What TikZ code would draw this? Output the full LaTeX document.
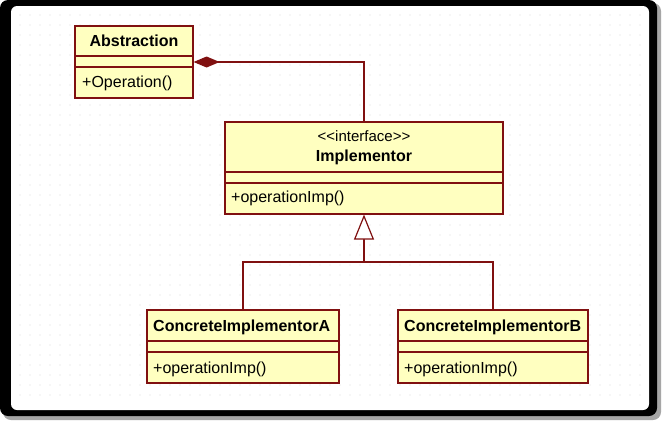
\documentclass[tikz,border=0pt]{standalone}
\usepackage{fontspec}
\setmainfont{Liberation Sans}
\usetikzlibrary{arrows.meta}
\definecolor{umlfill}{RGB}{255,255,192}
\definecolor{umlline}{RGB}{128,16,16}
\definecolor{dotcol}{gray}{0.86}
\definecolor{shadowcol}{gray}{0.65}
\tikzset{
  cls/.style={draw=umlline,fill=umlfill,line width=1.2pt,inner sep=0pt},
  rule/.style={draw=umlline,line width=1.2pt},
  cname/.style={font=\fontsize{16}{18}\selectfont\bfseries,anchor=base,inner sep=0pt},
  cster/.style={font=\fontsize{15}{18}\selectfont,anchor=base,inner sep=0pt},
  cop/.style={font=\fontsize{16}{18}\selectfont,anchor=base west,inner sep=0pt},
  conn/.style={draw=umlline,line width=1.2pt},
}

\begin{document}
\begin{tikzpicture}[x=1pt,y=-1pt]
  \useasboundingbox (0,0) rectangle (662,421);
  % frame
  \fill[white] (0,0) rectangle (662,421);
  \fill[shadowcol,rounded corners=8pt] (3,3) rectangle (661,420);
  \fill[black,rounded corners=8pt] (0,0) rectangle (657,416);
  \fill[white,rounded corners=6pt] (11,6) rectangle (649,410);
  \foreach \x in {20,30,...,640}
    \foreach \y in {15,25,...,400}
      \fill[dotcol] (\x,\y) circle (0.6);
  % classes
  \node[cls,minimum width=118pt,minimum height=72pt] (abs) at (134,62) {};
  \draw[rule] (abs.west |- 0,56) -- (abs.east |- 0,56);
  \draw[rule] (abs.west |- 0,67) -- (abs.east |- 0,67);
  \node[cname] (abs-name) at (134,46) {Abstraction};
  \node[cop] (abs-op) at (82,87) {+Operation()};
  \node[cls,minimum width=278pt,minimum height=92pt] (impl) at (364,168) {};
  \draw[rule] (impl.west |- 0,172) -- (impl.east |- 0,172);
  \draw[rule] (impl.west |- 0,183) -- (impl.east |- 0,183);
  \node[cster] (impl-ster) at (364,141) {<\kern0pt<interface>\kern0pt>};
  \node[cname] (impl-name) at (364,161) {Implementor};
  \node[cop] (impl-op) at (231,202) {+operationImp()};
  \node[cls,minimum width=192pt,minimum height=73pt] (ca) at (243,346.5) {};
  \draw[rule] (ca.west |- 0,341) -- (ca.east |- 0,341);
  \draw[rule] (ca.west |- 0,352) -- (ca.east |- 0,352);
  \node[cname,anchor=base west] (ca-name) at (153,331) {ConcreteImplementorA};
  \node[cop] (ca-op) at (153,373) {+operationImp()};
  \node[cls,minimum width=190pt,minimum height=73pt] (cb) at (493,346.5) {};
  \draw[rule] (cb.west |- 0,341) -- (cb.east |- 0,341);
  \draw[rule] (cb.west |- 0,352) -- (cb.east |- 0,352);
  \node[cname,anchor=base west] (cb-name) at (404,331) {ConcreteImplementorB};
  \node[cop] (cb-op) at (404,373) {+operationImp()};
  % relations
  \draw[conn,{Diamond[length=26pt,width=11pt]}-] (abs.east) -| (impl.north);
  \coordinate (fork) at (364,262);
  \draw[conn] (ca.north) |- (fork) -| (cb.north);
  \draw[conn,-{Triangle[open,length=25pt,width=20pt,fill=white]}] (fork) -- (impl.south);
\end{tikzpicture}
\end{document}
